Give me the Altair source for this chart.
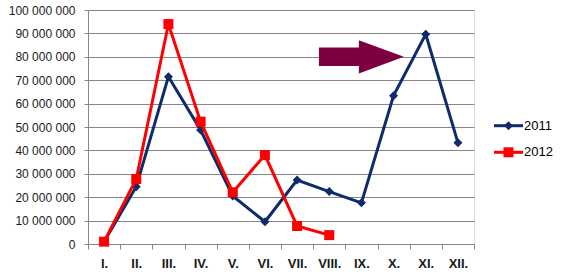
import altair as alt
import pandas as pd

months = ["I.", "II.", "III.", "IV.", "V.", "VI.", "VII.", "VIII.", "IX.", "X.", "XI.", "XII."]
series = ["2011", "2012"]
values_2011 = [1.0e6, 24.5e6, 71.5e6, 48.7e6, 20.5e6, 9.5e6, 27.3e6, 22.4e6, 17.6e6, 63.4e6, 89.6e6, 43.3e6]
values_2012 = [1.0e6, 27.8e6, 94.0e6, 52.3e6, 22.1e6, 38.0e6, 7.7e6, 3.8e6]
y_ticks = [0, 10e6, 20e6, 30e6, 40e6, 50e6, 60e6, 70e6, 80e6, 90e6, 100e6]
colors = ["#0F2B6B", "#FF0000"]
shapes = ["diamond", "square"]
sizes = [81, 100]
arrow_month = "IX."
arrow_level = 80e6

rows = []
for m, v in zip(months, values_2011):
    rows.append({"month": m, "value": v, "series": "2011"})
for m, v in zip(months, values_2012):
    rows.append({"month": m, "value": v, "series": "2012"})
df = pd.DataFrame(rows)

x_scale = alt.Scale(type="band", domain=months, paddingInner=0, paddingOuter=0)
y_scale = alt.Scale(domain=[0, 100e6], nice=False)
color_scale = alt.Scale(domain=series, range=colors)

x_enc = alt.X("month:N", scale=x_scale, bandPosition=0.5, title=None,
              axis=alt.Axis(tickBand="extent", labelAngle=0, labelFontWeight="bold",
                            labelFontSize=13, labelColor="#1a1a1a", tickSize=5,
                            labelPadding=8, grid=False, domainColor="#868686",
                            tickColor="#868686"))
y_enc = alt.Y("value:Q", scale=y_scale, title=None,
              axis=alt.Axis(values=y_ticks, tickSize=4, labelPadding=9,
                            labelFontSize=12, labelColor="#1a1a1a",
                            labelExpr="replace(format(datum.value, ','), regexp(',', 'g'), ' ')",
                            grid=True, gridColor="#868686", domainColor="#868686",
                            tickColor="#868686"))

base = alt.Chart(df)
layers = []
for s, shp, sz in zip(series, shapes, sizes):
    sub = base.transform_filter(alt.datum.series == s)
    line = sub.mark_line(strokeWidth=3).encode(
        x=x_enc, y=y_enc,
        color=alt.Color("series:N", scale=color_scale, legend=None))
    pts = sub.mark_point(shape=shp, size=sz, filled=True, opacity=1).encode(
        x=x_enc, y=y_enc,
        color=alt.Color("series:N", scale=color_scale, legend=None))
    layers += [line, pts]

arrow_path = "M-1,-0.216 L-0.06,-0.216 L-0.06,-0.39 L1,0 L-0.06,0.39 L-0.06,0.216 L-1,0.216 Z"
arrow = alt.Chart(pd.DataFrame({"month": [arrow_month], "value": [arrow_level]})).mark_point(
    shape=arrow_path, size=7225, filled=True, color="#7F0040", opacity=1, strokeWidth=0
).encode(x=x_enc, y=y_enc)

# manual legend (line + marker + label)
legend_rows_y = [115.7, 142.3]
leg_layers = []
for s, col, shp, sz, py in zip(series, colors, shapes, sizes, legend_rows_y):
    ldf = alt.Chart(pd.DataFrame({"series": [s]}))
    leg_layers.append(ldf.mark_rule(strokeWidth=3, color=col).encode(
        x=alt.value(406), x2=alt.value(435), y=alt.value(py)))
    leg_layers.append(ldf.mark_point(shape=shp, size=sz, filled=True, opacity=1, color=col).encode(
        x=alt.value(420.5), y=alt.value(py)))
    leg_layers.append(ldf.mark_text(align="left", baseline="middle", fontSize=13,
                                    color="#000000", font="Liberation Sans").encode(
        x=alt.value(436), y=alt.value(py), text="series:N"))

chart = alt.layer(*layers, arrow, *leg_layers).properties(
    width=386, height=234,
    autosize=alt.AutoSizeParams(type="none"),
    padding={"left": 88, "top": 10, "right": 90, "bottom": 36},
).configure_view(stroke=None).configure(font="Liberation Sans").configure_axis(
    labelFont="Liberation Sans")

chart.save("out.html", embed_options={"renderer": "svg", "actions": False})
